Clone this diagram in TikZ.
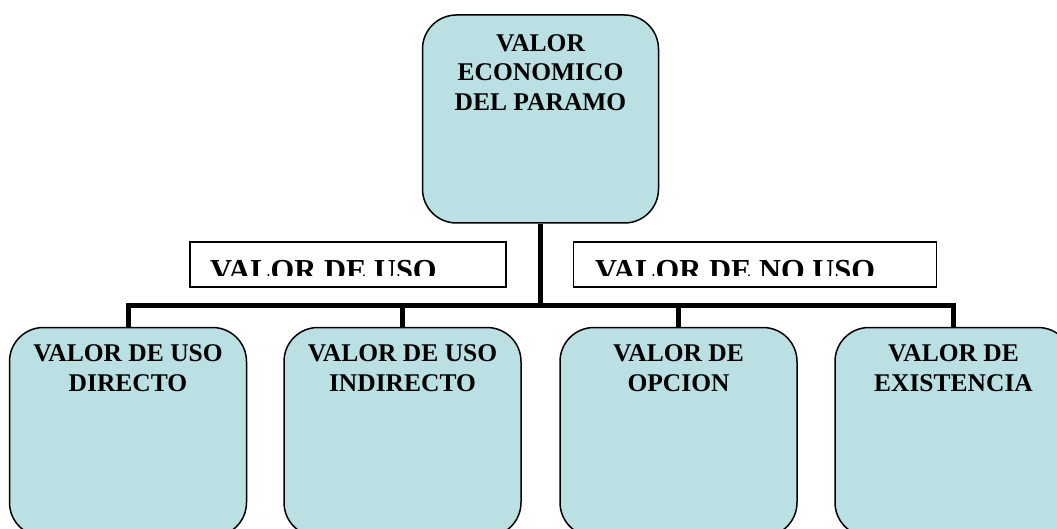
\documentclass[tikz,border=0pt]{standalone}
\usepackage{fontspec}
\setmainfont{Liberation Serif}
\usepackage{xcolor}
\usepackage{tikz}
\usetikzlibrary{positioning}
\definecolor{cajaazul}{HTML}{BBE0E3}

\tikzset{
	caja/.style={shape=rectangle, draw=black, line width=1.5pt, fill=cajaazul, rounded corners=34pt, minimum width=236pt, minimum height=209pt, inner sep=0pt},
	rotulo/.style={shape=rectangle, draw=black, line width=1.5pt, fill=white, minimum height=45pt, inner sep=0pt},
	titulo/.style={anchor=north, align=center, inner sep=0pt, font=\bfseries\fontsize{25.5}{29.5}\selectfont},
	etiqueta/.style={anchor=north west, inner sep=0pt, font=\bfseries\fontsize{30.5}{32}\selectfont},
	rama/.style={line width=5pt, line join=miter}
}

\begin{document}
\begin{tikzpicture}[x=1pt,y=-1pt]
	\useasboundingbox (0,0) rectangle (1057,529);
	\clip (0,0) rectangle (1057,529);
%	\draw[help lines] (0,0) rectangle (1057,529);
	\node at(540.5,119)[caja, minimum height=208pt] (caja0) {};
	\node at(caja0.north)[titulo, yshift=-20pt] (t0) {VALOR\\ECONOMICO\\DEL PARAMO};
	\foreach \x/\n/\t in {128/1/{VALOR DE USO\\DIRECTO}, 402.5/2/{VALOR DE USO\\INDIRECTO}, 678.5/3/{VALOR DE\\OPCION}, 953.5/4/{VALOR DE\\EXISTENCIA}} {
		\node at(\x,432)[caja, minimum width=237pt] (caja\n) {};
		\node at(caja\n.north)[titulo, yshift=-18pt] (t\n) {\t};
	}
	% rotulos
	\node at(348,264.5)[rotulo, minimum width=316pt] (uso) {};
	\node at(755,264.5)[rotulo, minimum width=363pt] (nouso) {};
	\begin{scope}
	\clip (190,242) rectangle (506,275.5);
	\node at(210,260)[etiqueta] (tuso) {VALOR DE USO};
	\end{scope}
	\begin{scope}
	\clip (573,242) rectangle (937,275.5);
	\node at(595,260)[etiqueta] (tnouso) {VALOR DE NO USO};
	\end{scope}
	% ramas
	\coordinate (bus) at (540.5,305);
	\draw[rama] (caja0.south) -- (bus);
	\draw[rama] (caja1.north) -- (caja1.north |- bus) -| (caja4.north);
	\foreach \n in {2,3} {
		\draw[rama] (caja\n.north) -- (caja\n.north |- bus);
	}
\end{tikzpicture}
\end{document}
